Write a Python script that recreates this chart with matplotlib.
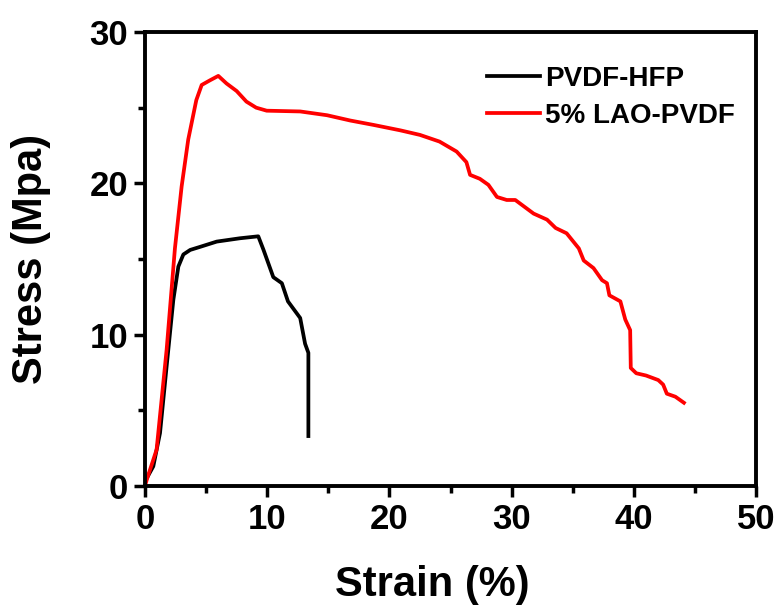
import matplotlib.pyplot as plt
from matplotlib.ticker import MultipleLocator

plt.rcParams['font.family'] = ['Liberation Sans', 'DejaVu Sans']
plt.rcParams['font.weight'] = 'bold'

# PVDF-HFP curve (strain %, stress MPa)
strain_hfp = [0, 0.68, 1.23, 1.77, 2.32, 2.73, 3.14, 3.7, 4.5, 5.87, 7.77, 9.27,
              9.7, 10.5, 11.2, 11.7, 12.7, 13.1, 13.37, 13.37]
stress_hfp = [0.3, 1.3, 3.5, 7.9, 12.3, 14.5, 15.3, 15.6, 15.8, 16.15, 16.37, 16.5,
              15.6, 13.8, 13.4, 12.2, 11.1, 9.4, 8.8, 3.3]

# 5% LAO-PVDF curve
strain_lao = [0, 0.14, 0.95, 1.77, 2.45, 3.0, 3.54, 4.2, 4.64, 5.3, 6.0, 6.67, 7.5,
              8.3, 9.1, 9.96, 12.7, 14.9, 16.8, 18.7, 20.9, 22.5, 24.1, 25.5, 26.3,
              26.6, 27.4, 28.1, 28.8, 29.6, 30.3, 31.8, 32.9, 33.6, 34.5, 34.9, 35.5,
              35.9, 36.7, 37.4, 37.8, 38.0, 38.9, 39.3, 39.7, 39.75, 40.2, 41.0, 42.0,
              42.4, 42.7, 43.4, 44.1]
stress_lao = [0.0, 0.4, 2.4, 9.0, 15.7, 19.8, 22.9, 25.5, 26.5, 26.8, 27.1, 26.6, 26.1,
              25.4, 25.0, 24.8, 24.75, 24.5, 24.15, 23.86, 23.5, 23.2, 22.76, 22.1, 21.4,
              20.56, 20.3, 19.9, 19.1, 18.9, 18.9, 18.0, 17.6, 17.05, 16.7, 16.3, 15.7,
              14.9, 14.4, 13.6, 13.4, 12.6, 12.2, 11.0, 10.3, 7.8, 7.45, 7.3, 7.0,
              6.7, 6.1, 5.9, 5.5]

fig = plt.figure(figsize=(7.82, 6.05), dpi=100)
ax = fig.add_axes([0.1854, 0.1967, 0.7814, 0.7504])

ax.plot(strain_hfp, stress_hfp, color='black', lw=2.7, label='PVDF-HFP')
ax.plot(strain_lao, stress_lao, color='#ff0000', lw=2.7, label='5% LAO-PVDF')

ax.set_xlim(0, 50)
ax.set_ylim(0, 30)
ax.xaxis.set_major_locator(MultipleLocator(10))
ax.xaxis.set_minor_locator(MultipleLocator(5))
ax.yaxis.set_major_locator(MultipleLocator(10))
ax.yaxis.set_minor_locator(MultipleLocator(5))
for s in ax.spines.values():
    s.set_linewidth(2.8)
ax.tick_params(which='major', direction='out', length=8, width=2.5, labelsize=25, pad=4)
ax.tick_params(which='minor', direction='out', length=5, width=2.5)

ax.set_xlabel('Strain (%)', fontsize=30, fontweight='bold')
ax.xaxis.set_label_coords(0.47, -0.175)
ax.set_ylabel('Stress (Mpa)', fontsize=30, fontweight='bold')
ax.yaxis.set_label_coords(-0.153, 0.5)

ax.legend(loc='upper left', bbox_to_anchor=(487 / 782, 1 - 66 / 605),
          bbox_transform=fig.transFigure, frameon=False, fontsize=20,
          handlelength=1.9, handletextpad=0.2, labelspacing=0.38,
          borderpad=0, borderaxespad=0)

fig.savefig('out.png', dpi=100)
